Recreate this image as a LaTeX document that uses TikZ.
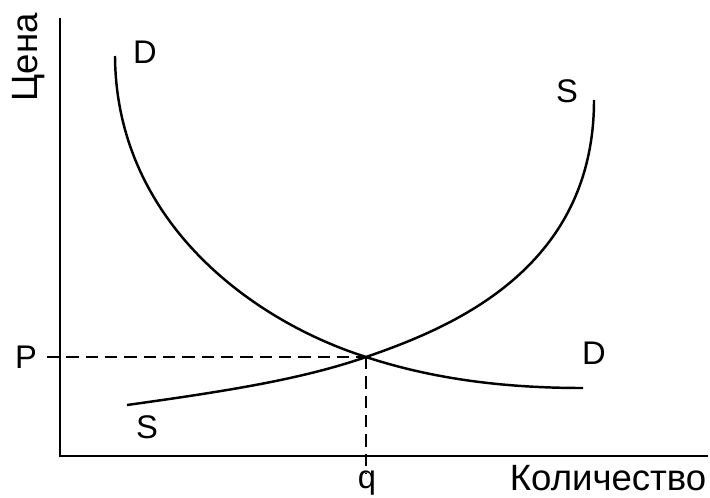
\documentclass[tikz,border=0pt]{standalone}
\usepackage{fontspec}
\setmainfont{Liberation Sans}
\begin{document}
\begin{tikzpicture}[x={(0.01cm,0)},y={(0,-0.01cm)},
  axis/.style={line width=0.45pt},
  curve/.style={line width=0.7pt},
  guide/.style={line width=0.35pt,dash pattern=on 3.5pt off 2pt},
  lbl/.style={font=\fontsize{9.3}{11}\selectfont,inner sep=0pt,anchor=base},
  word/.style={font=\fontsize{10.4}{12}\selectfont,inner sep=0pt}]
\useasboundingbox (0,0) rectangle (710,497);
% axes
\coordinate (top) at (60,18);
\coordinate (origin) at (60,456);
\coordinate (right) at (708,456);
\draw[axis] (top) -- (origin) -- (right);
% equilibrium
\coordinate (E) at (366,357);
\coordinate (pstart) at (47,357);
\coordinate (qend) at (366,474);
\draw[guide] (pstart) -- (E);
\draw[guide] (E) -- (qend);
% demand
\coordinate (D1) at (115,56);
\coordinate (D2) at (583,388);
\draw[curve] (D1) .. controls (116,220) and (250,320) .. (E)
                  .. controls (430,378) and (500,388) .. (D2);
% supply
\coordinate (S1) at (127,405);
\coordinate (S2) at (594,100);
\draw[curve] (S1) .. controls (220,392) and (300,380) .. (E)
                  .. controls (450,328) and (594,270) .. (S2);
% labels
\node[lbl] (Dtop) at (145,63) {D};
\node[lbl] (Stop) at (567,102) {S};
\node[lbl] (Dbot) at (594,364) {D};
\node[lbl] (Sbot) at (147,438) {S};
\node[lbl] (P) at (26,368) {P};
\node[lbl] (q) at (367,488) {q};
\node[word,anchor=base east] (qty) at (707,490) {Количество};
\node[word,rotate=90,anchor=base west] (price) at (37,102) {Цена};
\end{tikzpicture}
\end{document}
